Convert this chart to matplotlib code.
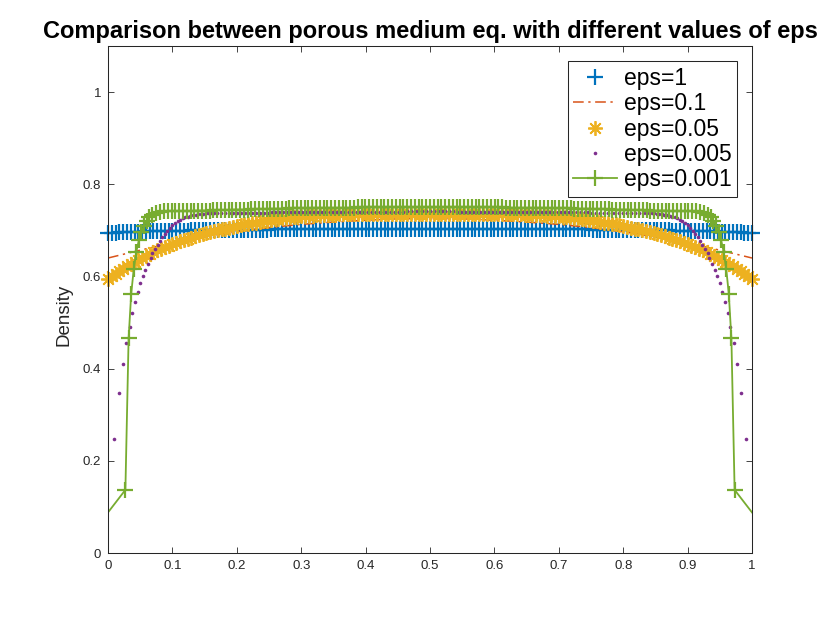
import numpy as np
import matplotlib
matplotlib.use("Agg")
import matplotlib.pyplot as plt

plt.rcParams['font.family'] = ['Liberation Sans', 'DejaVu Sans']

# eps=1 and eps=0.05 share a uniform grid of 171 nodes
grid_n = 171

eps1_y = [
    0.694, 0.695, 0.695, 0.696, 0.696, 0.696, 0.697, 0.697, 0.697, 0.697,
    0.698, 0.698, 0.698, 0.698, 0.698, 0.699, 0.699, 0.699, 0.699, 0.699,
    0.699, 0.699, 0.700, 0.700, 0.700, 0.700, 0.700, 0.700, 0.700, 0.700,
    0.700, 0.701, 0.701, 0.701, 0.701, 0.701, 0.701, 0.701, 0.701, 0.701,
    0.701, 0.701, 0.701, 0.702, 0.702, 0.702, 0.702, 0.702, 0.702, 0.702,
    0.702, 0.702, 0.702, 0.702, 0.702, 0.702, 0.702, 0.702, 0.702, 0.703,
    0.703, 0.703, 0.703, 0.703, 0.703, 0.703, 0.703, 0.703, 0.703, 0.703,
    0.703, 0.703, 0.703, 0.703, 0.703, 0.703, 0.703, 0.703, 0.703, 0.703,
    0.703, 0.703, 0.703, 0.703, 0.703, 0.703, 0.703, 0.703, 0.703, 0.703,
    0.703, 0.703, 0.703, 0.703, 0.703, 0.703, 0.703, 0.703, 0.703, 0.703,
    0.703, 0.703, 0.703, 0.703, 0.703, 0.703, 0.703, 0.703, 0.703, 0.703,
    0.703, 0.703, 0.702, 0.702, 0.702, 0.702, 0.702, 0.702, 0.702, 0.702,
    0.702, 0.702, 0.702, 0.702, 0.702, 0.702, 0.702, 0.702, 0.701, 0.701,
    0.701, 0.701, 0.701, 0.701, 0.701, 0.701, 0.701, 0.701, 0.701, 0.701,
    0.700, 0.700, 0.700, 0.700, 0.700, 0.700, 0.700, 0.700, 0.700, 0.699,
    0.699, 0.699, 0.699, 0.699, 0.699, 0.699, 0.698, 0.698, 0.698, 0.698,
    0.698, 0.697, 0.697, 0.697, 0.697, 0.696, 0.696, 0.696, 0.695, 0.695,
    0.694,
]

eps005_y = [
    0.594, 0.600, 0.606, 0.612, 0.617, 0.622, 0.627, 0.632, 0.636, 0.641,
    0.645, 0.649, 0.653, 0.657, 0.660, 0.664, 0.667, 0.670, 0.673, 0.676,
    0.679, 0.682, 0.684, 0.687, 0.689, 0.692, 0.694, 0.696, 0.698, 0.700,
    0.702, 0.704, 0.706, 0.708, 0.709, 0.711, 0.713, 0.714, 0.716, 0.717,
    0.719, 0.720, 0.721, 0.723, 0.724, 0.725, 0.726, 0.727, 0.728, 0.729,
    0.730, 0.731, 0.731, 0.732, 0.732, 0.733, 0.733, 0.733, 0.734, 0.734,
    0.734, 0.735, 0.735, 0.735, 0.735, 0.735, 0.735, 0.735, 0.735, 0.735,
    0.735, 0.735, 0.735, 0.735, 0.735, 0.735, 0.735, 0.735, 0.735, 0.735,
    0.735, 0.735, 0.735, 0.735, 0.735, 0.735, 0.735, 0.735, 0.735, 0.735,
    0.735, 0.735, 0.735, 0.735, 0.735, 0.735, 0.735, 0.735, 0.735, 0.735,
    0.735, 0.735, 0.735, 0.735, 0.735, 0.735, 0.735, 0.735, 0.735, 0.735,
    0.734, 0.734, 0.734, 0.733, 0.733, 0.733, 0.732, 0.732, 0.731, 0.731,
    0.730, 0.729, 0.728, 0.727, 0.726, 0.725, 0.724, 0.723, 0.721, 0.720,
    0.719, 0.717, 0.716, 0.714, 0.713, 0.711, 0.709, 0.708, 0.706, 0.704,
    0.702, 0.700, 0.698, 0.696, 0.694, 0.692, 0.689, 0.687, 0.684, 0.682,
    0.679, 0.676, 0.673, 0.670, 0.667, 0.664, 0.660, 0.657, 0.653, 0.649,
    0.645, 0.641, 0.636, 0.632, 0.627, 0.622, 0.617, 0.612, 0.606, 0.600,
    0.594,
]

# eps=0.1 (line only)
eps01_x = [0.00, 0.05, 0.10, 0.15, 0.20, 0.25, 0.30, 0.35, 0.40, 0.45, 0.50,
           0.55, 0.60, 0.65, 0.70, 0.75, 0.80, 0.85, 0.90, 0.95, 1.00]
eps01_y = [0.640, 0.657, 0.673, 0.686, 0.697, 0.706, 0.713, 0.718, 0.722, 0.725, 0.726,
           0.725, 0.722, 0.718, 0.713, 0.706, 0.697, 0.686, 0.673, 0.657, 0.640]

# eps=0.005: boundary layers read point by point, plateau on a uniform grid
eps0005_left_x = [0.010, 0.017, 0.023, 0.028, 0.034, 0.038, 0.042, 0.046, 0.050, 0.054,
                  0.058, 0.062, 0.066, 0.069, 0.073, 0.077, 0.081, 0.084, 0.088, 0.092,
                  0.096, 0.100, 0.104, 0.108, 0.112, 0.116, 0.120, 0.124, 0.128, 0.132,
                  0.136, 0.140, 0.144, 0.148, 0.152, 0.156, 0.160]
eps0005_left_y = [0.248, 0.348, 0.409, 0.455, 0.491, 0.520, 0.545, 0.567, 0.585, 0.600,
                  0.615, 0.628, 0.639, 0.650, 0.659, 0.668, 0.677, 0.685, 0.692, 0.699,
                  0.706, 0.711, 0.716, 0.720, 0.723, 0.726, 0.728, 0.730, 0.732, 0.733,
                  0.734, 0.735, 0.736, 0.736, 0.737, 0.737, 0.737]
eps0005_mid_n = 113
eps0005_mid_y = [
    0.737, 0.737, 0.737, 0.737, 0.737, 0.738, 0.738, 0.738, 0.738, 0.738,
    0.738, 0.738, 0.738, 0.738, 0.738, 0.739, 0.739, 0.739, 0.739, 0.739,
    0.739, 0.739, 0.739, 0.739, 0.739, 0.739, 0.739, 0.739, 0.739, 0.739,
    0.740, 0.740, 0.740, 0.740, 0.740, 0.740, 0.740, 0.740, 0.740, 0.740,
    0.740, 0.740, 0.740, 0.740, 0.740, 0.740, 0.740, 0.740, 0.740, 0.740,
    0.741, 0.741, 0.741, 0.741, 0.741, 0.741, 0.741, 0.741, 0.741, 0.741,
    0.741, 0.741, 0.741, 0.740, 0.740, 0.740, 0.740, 0.740, 0.740, 0.740,
    0.740, 0.740, 0.740, 0.740, 0.740, 0.740, 0.740, 0.740, 0.740, 0.740,
    0.740, 0.740, 0.740, 0.739, 0.739, 0.739, 0.739, 0.739, 0.739, 0.739,
    0.739, 0.739, 0.739, 0.739, 0.739, 0.739, 0.739, 0.739, 0.738, 0.738,
    0.738, 0.738, 0.738, 0.738, 0.738, 0.738, 0.738, 0.738, 0.737, 0.737,
    0.737, 0.737, 0.737,
]
eps0005_right_x = [0.840, 0.844, 0.848, 0.852, 0.856, 0.860, 0.864, 0.868, 0.872, 0.876,
                   0.880, 0.884, 0.888, 0.892, 0.896, 0.900, 0.904, 0.908, 0.912, 0.916,
                   0.919, 0.923, 0.927, 0.931, 0.934, 0.938, 0.942, 0.946, 0.950, 0.954,
                   0.958, 0.962, 0.966, 0.972, 0.977, 0.983, 0.990]
eps0005_right_y = [0.737, 0.737, 0.737, 0.736, 0.736, 0.735, 0.734, 0.733, 0.732, 0.730,
                   0.728, 0.726, 0.723, 0.720, 0.716, 0.711, 0.706, 0.699, 0.692, 0.685,
                   0.677, 0.668, 0.659, 0.650, 0.639, 0.628, 0.615, 0.600, 0.585, 0.567,
                   0.545, 0.520, 0.491, 0.455, 0.409, 0.348, 0.248]

# eps=0.001: steep boundary layers, plateau on a uniform grid
eps0001_left_x = [0.000, 0.027, 0.032, 0.036, 0.040, 0.044, 0.048, 0.052, 0.056, 0.060,
                  0.064, 0.069, 0.075, 0.081, 0.087]
eps0001_left_y = [0.088, 0.137, 0.466, 0.562, 0.616, 0.654, 0.679, 0.697, 0.710, 0.720,
                  0.728, 0.733, 0.737, 0.739, 0.741]
eps0001_mid_n = 139
eps0001_mid_y = [
    0.742, 0.742, 0.742, 0.742, 0.742, 0.742, 0.742, 0.743, 0.743, 0.743,
    0.743, 0.743, 0.744, 0.744, 0.744, 0.744, 0.744, 0.745, 0.745, 0.745,
    0.745, 0.745, 0.746, 0.746, 0.746, 0.746, 0.746, 0.747, 0.747, 0.747,
    0.747, 0.747, 0.748, 0.748, 0.748, 0.748, 0.748, 0.748, 0.749, 0.749,
    0.749, 0.749, 0.749, 0.749, 0.749, 0.749, 0.749, 0.749, 0.749, 0.749,
    0.750, 0.750, 0.750, 0.750, 0.750, 0.750, 0.750, 0.750, 0.750, 0.750,
    0.750, 0.750, 0.750, 0.750, 0.750, 0.750, 0.750, 0.750, 0.750, 0.750,
    0.750, 0.750, 0.750, 0.750, 0.750, 0.750, 0.750, 0.750, 0.750, 0.750,
    0.750, 0.750, 0.750, 0.750, 0.750, 0.750, 0.750, 0.750, 0.750, 0.749,
    0.749, 0.749, 0.749, 0.749, 0.749, 0.749, 0.749, 0.749, 0.749, 0.749,
    0.749, 0.748, 0.748, 0.748, 0.748, 0.748, 0.748, 0.747, 0.747, 0.747,
    0.747, 0.747, 0.746, 0.746, 0.746, 0.746, 0.746, 0.745, 0.745, 0.745,
    0.745, 0.745, 0.744, 0.744, 0.744, 0.744, 0.744, 0.743, 0.743, 0.743,
    0.743, 0.743, 0.742, 0.742, 0.742, 0.742, 0.742, 0.742, 0.742,
]
eps0001_right_x = [0.913, 0.919, 0.925, 0.931, 0.936, 0.940, 0.944, 0.948, 0.952, 0.956,
                   0.960, 0.964, 0.968, 0.973, 1.000]
eps0001_right_y = [0.741, 0.739, 0.737, 0.733, 0.728, 0.720, 0.710, 0.697, 0.679, 0.654,
                   0.616, 0.562, 0.466, 0.137, 0.088]

labels = ['eps=1', 'eps=0.1', 'eps=0.05', 'eps=0.005', 'eps=0.001']
xticks = [0, 0.1, 0.2, 0.3, 0.4, 0.5, 0.6, 0.7, 0.8, 0.9, 1]
xticklabels = ['0', '0.1', '0.2', '0.3', '0.4', '0.5', '0.6', '0.7', '0.8', '0.9', '1']
yticks = [0, 0.2, 0.4, 0.6, 0.8, 1]
yticklabels = ['0', '0.2', '0.4', '0.6', '0.8', '1']

c_blue = '#0072BD'
c_red = '#D95319'
c_yellow = '#EDB120'
c_purple = '#7E2F8E'
c_green = '#77AC30'
c_axis = '#262626'

x_grid = np.linspace(0, 1, grid_n)
x_0005 = np.concatenate([eps0005_left_x, np.linspace(0.164, 0.836, eps0005_mid_n), eps0005_right_x])
y_0005 = np.concatenate([eps0005_left_y, eps0005_mid_y, eps0005_right_y])
x_0001 = np.concatenate([eps0001_left_x, np.linspace(0.093, 0.907, eps0001_mid_n), eps0001_right_x])
y_0001 = np.concatenate([eps0001_left_y, eps0001_mid_y, eps0001_right_y])

fig = plt.figure(figsize=(8.3, 6.23), dpi=100)
ax = fig.add_axes([108 / 830, 70 / 623, 644 / 830, 507 / 623])

ax.plot(x_grid, eps1_y, linestyle='none', marker='+', ms=11, mew=1.6,
        color=c_blue, clip_on=False, label=labels[0])
ax.plot(eps01_x, eps01_y, color=c_red, lw=1.1, linestyle=(0, (7, 3, 1.5, 3)),
        label=labels[1])
ax.plot(x_grid, eps005_y, linestyle='none', marker=(8, 2, 0), ms=10.5, mew=1.3,
        color=c_yellow, clip_on=False, label=labels[2])
ax.plot(x_0005, y_0005, linestyle='none', marker='o', ms=2.6, mew=0,
        color=c_purple, label=labels[3])
ax.plot(x_0001, y_0001, color=c_green, lw=1.3, marker='+', ms=11, mew=1.6,
        markevery=slice(1, len(x_0001) - 1), label=labels[4])

ax.set_xlim(0, 1)
ax.set_ylim(0, 1.1)
ax.set_xticks(xticks)
ax.set_xticklabels(xticklabels)
ax.set_yticks(yticks)
ax.set_yticklabels(yticklabels)
ax.tick_params(direction='in', length=4, width=0.6, top=True, right=True,
               labelsize=9.5, colors=c_axis, pad=5)
for s in ax.spines.values():
    s.set_color(c_axis)
    s.set_linewidth(0.75)

ax.set_title('Comparison between porous medium eq. with different values of eps',
             fontsize=17, fontweight='bold', pad=6)
ax.set_ylabel('Density', fontsize=13.5, color=c_axis)
ax.yaxis.set_label_coords(-0.055, 0.47)

leg = ax.legend(loc='upper right', bbox_to_anchor=(0.977, 0.970), borderaxespad=0,
                fontsize=16.5, frameon=True, fancybox=False, framealpha=1,
                edgecolor=c_axis, handlelength=1.9, handletextpad=0.3,
                labelspacing=0.1, borderpad=0.25)
leg.get_frame().set_linewidth(0.75)

fig.savefig('out.png', dpi=100)
